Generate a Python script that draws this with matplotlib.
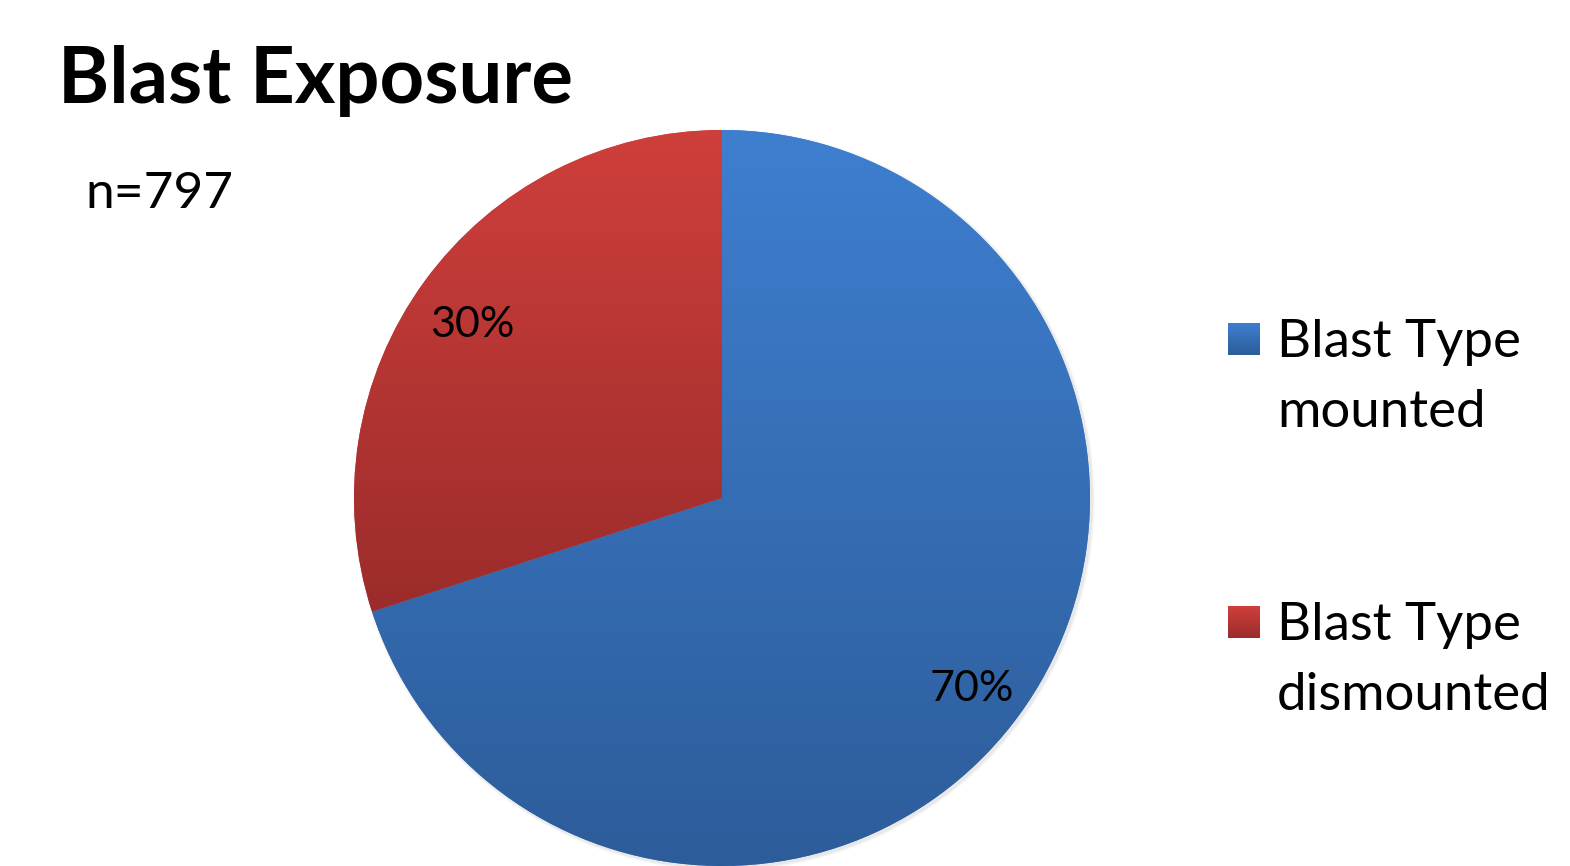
import numpy as np
import matplotlib
matplotlib.use("Agg")
import matplotlib.pyplot as plt
from matplotlib.colors import LinearSegmentedColormap
from matplotlib.patches import Rectangle, Circle

plt.rcParams['font.family'] = ['Lato', 'DejaVu Sans']

# data
title = "Blast Exposure"
n_note = "n=797"
labels = ["Blast Type\nmounted", "Blast Type\ndismounted"]
values = [70, 30]
top_colors = ["#3e7fd0", "#cf3f3b"]
bottom_colors = ["#2d5c99", "#9b2c2b"]

W, H = 1570, 866
cx, cy, r = 722, H - 498, 368


def gradient_fill(ax, patch, c_top, c_bot, extent):
    cmap = LinearSegmentedColormap.from_list("g", [c_bot, c_top])
    grad = np.linspace(0, 1, 256).reshape(-1, 1)
    im = ax.imshow(grad, cmap=cmap, extent=extent, origin="lower",
                   aspect="auto", zorder=patch.get_zorder() + 0.5)
    im.set_clip_path(patch)


fig = plt.figure(figsize=(W / 100, H / 100), dpi=100)
ax = fig.add_axes([0, 0, 1, 1])

# soft shadow
for k, a in [(6, 0.04), (4, 0.06), (2, 0.1)]:
    ax.add_patch(Circle((cx + 2, cy - 2), r + k * 0.5, color="#888888", alpha=a, lw=0, zorder=0))

wedges, texts, autotexts = ax.pie(values, center=(cx, cy), radius=r, startangle=90,
                                  counterclock=False, autopct='%d%%', pctdistance=0.84,
                                  colors=top_colors, wedgeprops=dict(linewidth=0),
                                  textprops=dict(fontsize=31, color="black"))
for w, ct, cb in zip(wedges, top_colors, bottom_colors):
    verts = w.get_path().vertices
    ymin, ymax = verts[:, 1].min(), verts[:, 1].max()
    gradient_fill(ax, w, ct, cb, [cx - r, cx + r, ymin, ymax])
for t in autotexts:
    t.set_zorder(5)
    x, y = t.get_position()
    t.set_position((x, y - 9))

ax.set_xlim(0, W)
ax.set_ylim(0, H)
ax.set_aspect("auto")
ax.axis("off")

ax.text(58, H - 103, title, fontsize=56, fontweight="bold", va="baseline", ha="left")
ax.text(85, H - 208, n_note, fontsize=37, va="baseline", ha="left")

# legend
leg_y = [H - 323, H - 606]
for lab, yy, ct, cb in zip(labels, leg_y, top_colors, bottom_colors):
    sq = Rectangle((1228, yy - 32), 32, 32, facecolor=ct, lw=0, zorder=3)
    ax.add_patch(sq)
    gradient_fill(ax, sq, ct, cb, [1228, 1260, yy - 32, yy])
    for j, line in enumerate(lab.split("\n")):
        ax.text(1277, yy - 34 - 70 * j, line, fontsize=38, va="baseline", ha="left")

fig.savefig("out.png", dpi=100)
